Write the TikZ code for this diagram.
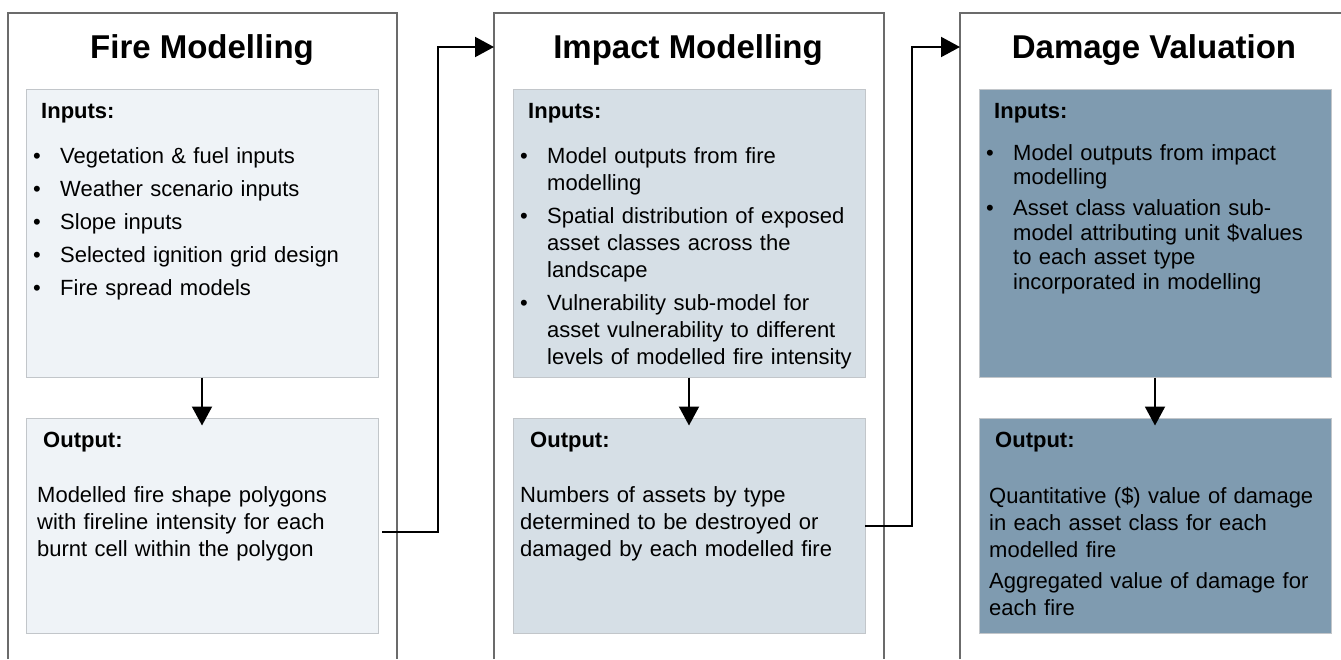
\documentclass[tikz,border=0pt]{standalone}
\usepackage{fontspec}
\setmainfont{Liberation Sans}
\usetikzlibrary{arrows.meta}

\definecolor{fillA}{HTML}{EFF3F7}
\definecolor{fillB}{HTML}{D6DFE6}
\definecolor{fillC}{HTML}{7F9BB0}
\definecolor{boxline}{HTML}{C2C6CA}
\definecolor{frameline}{HTML}{6B6B6B}

% bullet item with hanging indent; continuation lines use \newline
\newcommand\bitem[1]{\noindent\hangindent=27pt\hangafter=1\makebox[27pt][l]{\textbullet}#1\par}

\tikzset{
  frame/.style={draw=frameline, line width=1.3pt},
  panel/.style={draw=boxline, line width=1pt, minimum width=352pt, inner sep=0pt},
  inpanel/.style={panel, minimum height=288pt},
  outpanel/.style={panel, minimum height=215pt},
  title/.style={anchor=base, inner sep=0pt, font=\fontsize{33}{36}\selectfont\bfseries},
  head/.style={anchor=base west, inner sep=0pt, font=\fontsize{22}{27}\selectfont\bfseries},
  body/.style={anchor=base west, inner sep=0pt, text width=360pt, align=left,
    font=\fontsize{22}{#1}\selectfont},
  body/.default=27,
  flow/.style={line width=2pt, black, -{Triangle[width=20pt,length=19pt]}}
}

\begin{document}
\begin{tikzpicture}[x=1pt, y=-1pt]
\useasboundingbox (0,0) rectangle (1341,659);

% column frames, open at the bottom
\draw[frame] (8,659) -- (8,13) -- (397,13) -- (397,659);
\draw[frame] (494,659) -- (494,13) -- (884,13) -- (884,659);
\draw[frame] (960,659) -- (960,13) -- (1345,13);

\node[title] (t1) at (202,58) {Fire Modelling};
\node[title] (t2) at (688,58) {Impact Modelling};
\node[title] (t3) at (1154,58) {Damage Valuation};

% input and output panels
\node[inpanel, fill=fillA] (in1) at (202,233) {};
\node[outpanel, fill=fillA] (out1) at (202,525.5) {};
\node[inpanel, fill=fillB] (in2) at (689,233) {};
\node[outpanel, fill=fillB] (out2) at (689,525.5) {};
\node[inpanel, fill=fillC] (in3) at (1155,233) {};
\node[outpanel, fill=fillC] (out3) at (1155,525.5) {};

% Fire modelling texts
\node[head] (h1) at (41,118) {Inputs:};
\node[body=27] (b1) at (33,163) {\parskip=6pt%
  \bitem{Vegetation \& fuel inputs}%
  \bitem{Weather scenario inputs}%
  \bitem{Slope inputs}%
  \bitem{Selected ignition grid design}%
  \bitem{Fire spread models}};
\node[head] (o1) at (43,447) {Output:};
\node[body=27] (p1) at (37,502) {Modelled fire shape polygons\\
  with fireline intensity for each\\
  burnt cell within the polygon};

% Impact modelling texts
\node[head] (h2) at (528,118) {Inputs:};
\node[body=27] (b2) at (520,163) {\parskip=6pt%
  \bitem{Model outputs from fire\newline modelling}%
  \bitem{Spatial distribution of exposed\newline asset classes across the\newline landscape}%
  \bitem{Vulnerability sub-model for\newline asset vulnerability to different\newline levels of modelled fire intensity}};
\node[head] (o2) at (530,447) {Output:};
\node[body=27] (p2) at (520,502) {Numbers of assets by type\\
  determined to be destroyed or\\
  damaged by each modelled fire};

% Damage valuation texts
\node[head] (h3) at (994,118) {Inputs:};
\node[body=24.7] (b3) at (986,160) {\parskip=6pt%
  \bitem{Model outputs from impact\newline modelling}%
  \bitem{Asset class valuation sub-\newline model attributing unit \$values\newline to each asset type\newline incorporated in modelling}};
\node[head] (o3) at (995,447) {Output:};
\node[body=27] (p3) at (989,503) {\parskip=4pt%
  Quantitative (\$) value of damage\\
  in each asset class for each\\
  modelled fire\par
  Aggregated value of damage for\\
  each fire};

% flow between panels and columns
\coordinate (s1) at (382,532);
\coordinate (e1) at (494,47);
\coordinate (s2) at (865,526);
\coordinate (e2) at (960,47);

\draw[flow] (in1.south) -- ([yshift=-8pt]out1.north);
\draw[flow] (in2.south) -- ([yshift=-8pt]out2.north);
\draw[flow] (in3.south) -- ([yshift=-8pt]out3.north);

\draw[flow] (s1) -- ++(56,0) |- (e1);
\draw[flow] (s2) -- ++(47,0) |- (e2);
\end{tikzpicture}
\end{document}
